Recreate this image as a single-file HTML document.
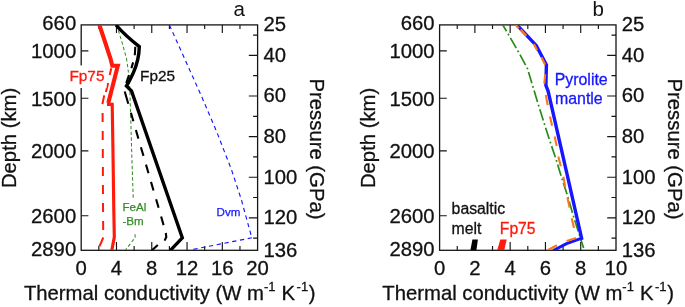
<!DOCTYPE html>
<html><head><meta charset="utf-8"><title>Thermal conductivity</title>
<style>
html,body{margin:0;padding:0;background:#fff;}
svg{display:block;font-family:"Liberation Sans", Arial, sans-serif;fill:#111;}
.tk{font-size:20.3px;stroke:#111;stroke-width:.3px;}
.ti{font-size:20.3px;stroke:#111;stroke-width:.3px;}
.lb{font-size:15.4px;stroke-width:.3px;}
.sm{font-size:11.6px;stroke-width:.25px;}
</style></head><body>
<svg width="685" height="307" viewBox="0 0 685 307">
<rect width="685" height="307" fill="#fff"/>
<rect x="81.20" y="24.9" width="176.40" height="225.40" fill="none" stroke="#151515" stroke-width="1.3"/>
<path d="M98.84 24.9v4.2M98.84 250.3v-4.2 M116.48 24.9v8.2M116.48 250.3v-8.2 M134.12 24.9v4.2M134.12 250.3v-4.2 M151.76 24.9v8.2M151.76 250.3v-8.2 M169.40 24.9v4.2M169.40 250.3v-4.2 M187.04 24.9v8.2M187.04 250.3v-8.2 M204.68 24.9v4.2M204.68 250.3v-4.2 M222.32 24.9v8.2M222.32 250.3v-8.2 M239.96 24.9v4.2M239.96 250.3v-4.2 M81.20 50.9h7.2 M81.20 98.2h7.2 M81.20 150.9h7.2 M81.20 215.7h7.2 M257.60 35.05h-4.5 M257.60 55.37h-8.8 M257.60 75.68h-4.5 M257.60 95.99h-8.8 M257.60 116.30h-4.5 M257.60 136.61h-8.8 M257.60 156.92h-4.5 M257.60 177.23h-8.8 M257.60 197.54h-4.5 M257.60 217.85h-8.8 M257.60 238.16h-4.5" stroke="#151515" stroke-width="1.15" fill="none"/>
<text x="76.20" y="30.4" text-anchor="end" class="tk">660</text>
<text x="76.20" y="58.4" text-anchor="end" class="tk">1000</text>
<text x="76.20" y="105.7" text-anchor="end" class="tk">1500</text>
<text x="76.20" y="158.1" text-anchor="end" class="tk">2000</text>
<text x="76.20" y="223.4" text-anchor="end" class="tk">2600</text>
<text x="76.20" y="255.8" text-anchor="end" class="tk">2890</text>
<text x="263.40" y="30.7" class="tk">25</text>
<text x="263.40" y="61.7" class="tk">40</text>
<text x="263.40" y="102.4" class="tk">60</text>
<text x="263.40" y="142.9" class="tk">80</text>
<text x="263.40" y="183.5" class="tk">100</text>
<text x="263.40" y="223.7" class="tk">120</text>
<text x="263.40" y="256.7" class="tk">136</text>
<text x="81.20" y="275.4" text-anchor="middle" class="tk">0</text>
<text x="116.48" y="275.4" text-anchor="middle" class="tk">4</text>
<text x="151.76" y="275.4" text-anchor="middle" class="tk">8</text>
<text x="187.04" y="275.4" text-anchor="middle" class="tk">12</text>
<text x="222.32" y="275.4" text-anchor="middle" class="tk">16</text>
<text x="257.60" y="275.4" text-anchor="middle" class="tk">20</text>
<text x="23.90" y="300.4" class="ti">Thermal conductivity (W m<tspan dy="-9.3" font-size="13">-1</tspan><tspan dy="9.3" dx="0.4"> K</tspan><tspan dy="-9.3" dx="1.5" font-size="13">-1</tspan><tspan dy="9.3" dx="0.7">)</tspan></text>
<text transform="translate(16.20 137.9) rotate(-90)" text-anchor="middle" class="ti">Depth (km)</text>
<text transform="translate(310.00 149) rotate(90)" text-anchor="middle" class="ti">Pressure (GPa)</text>
<text x="233.4" y="15.6" font-size="20.5">a</text>
<clipPath id="ca"><rect x="81.2" y="24.9" width="176.4" height="225.4"/></clipPath><clipPath id="cb"><rect x="439.6" y="24.9" width="176.4" height="225.4"/></clipPath>
<g fill="none" stroke-linejoin="miter" stroke-miterlimit="10" clip-path="url(#ca)">
<path d="M169.4 25 L185.4 60.4 L201.6 96.5 L217.2 133 L231.4 169.5 L241.3 199.5 L251.3 236 L252.3 237.7 L192.1 249.6" stroke="#1616ff" stroke-width="1.15" stroke-dasharray="4.3 3.6"/>
<path d="M116.6 25 L121.6 40.8 L126.4 58 Q129 75 129.6 84 L130.8 120 L131.8 156 L133.3 200 L135.2 237.5 L125.5 250" stroke="#338c24" stroke-width="1.05" stroke-dasharray="3.4 2.3"/>
<path d="M135.3 46.8L134.8 55.3 M133.1 62.4L131.4 68.3 M129.0 75.0L126.2 83.0 M124.7 91.5L128.3 103.7 M130.9 112.7L133.4 121.3 M135.9 130.0L138.4 138.6 M140.9 147.3L143.5 155.9 M146.0 164.6L148.5 173.2 M151.0 181.9L153.5 190.5 M156.1 199.2L158.6 207.8 M161.1 216.5L163.6 225.1 M165.8 233 L166.3 237 L164.6 240.6 M157.8 245 L151.9 250.3" stroke="#000" stroke-width="2.1"/>
<path d="M116 25 Q124.5 35 139.3 46.6 Q139 60 133.4 72.6 Q129.6 81 126.5 86 L131.5 91 L182.3 237.8 L170.4 250.3" stroke="#000" stroke-width="3.4"/>
<path d="M111.3 68.3L109.7 75.0 M108.2 82.9L105.9 91.9 M104.2 95.4L102.4 104.1 M102.6 113.0L102.6 122.0 M102.7 131.0L102.7 140.0 M102.8 149.0L102.8 158.0 M102.9 167.0L102.9 176.0 M102.9 185.0L103.0 194.0 M103.0 203.0L103.1 212.0 M103.1 221.0L103.2 230.0 M103.3 237.5 L99.5 246.3" stroke="#ff1a0c" stroke-width="2"/>
<path d="M99.4 25 Q104.8 40.8 110.8 59.7 L112.3 65.8 L117.8 65.8 L108.3 103" stroke="#ff1a0c" stroke-width="4.1"/>
<path d="M107 104.3 L112.2 104.3 L113 153 L113.8 210 L114.3 237 L111.8 250.3" stroke="#ff1a0c" stroke-width="3.15"/>
</g>
<rect x="67.5" y="65.4" width="39" height="22.6" fill="#fff"/>
<rect x="121" y="198.6" width="26" height="33.6" fill="#fff"/>
<text x="69.4" y="80.9" class="lb" fill="#ff1a0c" stroke="#ff1a0c">Fp75</text>
<text x="140.1" y="80.9" class="lb" stroke="#111">Fp25</text>
<text x="122.4" y="211.2" class="sm" fill="#338c24" stroke="#338c24">FeAl</text>
<text x="122.4" y="225.2" class="sm" fill="#338c24" stroke="#338c24">-Bm</text>
<text x="216.6" y="215.6" class="sm" fill="#1616ff" stroke="#1616ff">Dvm</text>
<rect x="439.60" y="24.9" width="176.40" height="225.40" fill="none" stroke="#151515" stroke-width="1.3"/>
<path d="M457.24 24.9v4.2M457.24 250.3v-4.2 M474.88 24.9v8.2M474.88 250.3v-8.2 M492.52 24.9v4.2M492.52 250.3v-4.2 M510.16 24.9v8.2M510.16 250.3v-8.2 M527.80 24.9v4.2M527.80 250.3v-4.2 M545.44 24.9v8.2M545.44 250.3v-8.2 M563.08 24.9v4.2M563.08 250.3v-4.2 M580.72 24.9v8.2M580.72 250.3v-8.2 M598.36 24.9v4.2M598.36 250.3v-4.2 M439.60 50.9h7.2 M439.60 98.2h7.2 M439.60 150.9h7.2 M439.60 215.7h7.2 M616.00 35.05h-4.5 M616.00 55.37h-8.8 M616.00 75.68h-4.5 M616.00 95.99h-8.8 M616.00 116.30h-4.5 M616.00 136.61h-8.8 M616.00 156.92h-4.5 M616.00 177.23h-8.8 M616.00 197.54h-4.5 M616.00 217.85h-8.8 M616.00 238.16h-4.5" stroke="#151515" stroke-width="1.15" fill="none"/>
<text x="434.60" y="30.4" text-anchor="end" class="tk">660</text>
<text x="434.60" y="58.4" text-anchor="end" class="tk">1000</text>
<text x="434.60" y="105.7" text-anchor="end" class="tk">1500</text>
<text x="434.60" y="158.1" text-anchor="end" class="tk">2000</text>
<text x="434.60" y="223.4" text-anchor="end" class="tk">2600</text>
<text x="434.60" y="255.8" text-anchor="end" class="tk">2890</text>
<text x="621.80" y="30.7" class="tk">25</text>
<text x="621.80" y="61.7" class="tk">40</text>
<text x="621.80" y="102.4" class="tk">60</text>
<text x="621.80" y="142.9" class="tk">80</text>
<text x="621.80" y="183.5" class="tk">100</text>
<text x="621.80" y="223.7" class="tk">120</text>
<text x="621.80" y="256.7" class="tk">136</text>
<text x="439.60" y="275.4" text-anchor="middle" class="tk">0</text>
<text x="474.88" y="275.4" text-anchor="middle" class="tk">2</text>
<text x="510.16" y="275.4" text-anchor="middle" class="tk">4</text>
<text x="545.44" y="275.4" text-anchor="middle" class="tk">6</text>
<text x="580.72" y="275.4" text-anchor="middle" class="tk">8</text>
<text x="616.00" y="275.4" text-anchor="middle" class="tk">10</text>
<text x="382.30" y="300.4" class="ti">Thermal conductivity (W m<tspan dy="-9.3" font-size="13">-1</tspan><tspan dy="9.3" dx="0.4"> K</tspan><tspan dy="-9.3" dx="1.5" font-size="13">-1</tspan><tspan dy="9.3" dx="0.7">)</tspan></text>
<text transform="translate(374.60 137.9) rotate(-90)" text-anchor="middle" class="ti">Depth (km)</text>
<text transform="translate(668.40 149) rotate(90)" text-anchor="middle" class="ti">Pressure (GPa)</text>
<text x="592.6" y="15.6" font-size="20.5">b</text>
<g fill="none" clip-path="url(#cb)">
<path d="M502.8 25 L508.2 34 L518.2 51.5 L527.4 68.3 L532.7 86.1 L538.3 104.4 L544.2 123.3 L549.9 141 L556.2 159.8 L561.7 178 L567.7 196.3 L573.3 215.7 L583.6 248" stroke="#2a8c18" stroke-width="1.7" stroke-dasharray="11.8 2.9 1.8 2.9" stroke-dashoffset="4.5"/>
<path d="M517 25 L536.2 45.4 L546.4 64.8 L545.9 85.5 L548.1 91 L581.6 238.2 L580 238.8" stroke="#1616ff" stroke-width="3.4" stroke-linejoin="miter"/>
<path d="M582.6 237.8 L566.6 243.6 L553.2 250.5" stroke="#1616ff" stroke-width="3" stroke-linejoin="round"/>
<path d="M515.7 25L518.9 28.3 M520.7 29.5L526.4 35.8 M533.9 44L537.1 50.2 M541.5 57.3L545.2 64.8 M545.2 74.2L544.3 83.6 M545.8 95L547.7 105.1 M550 116.4L552.1 125.8 M554.6 136.6L556.7 146 M558.3 156.6L560.8 166.2 M563.4 176.8L565.2 186.9 M567.4 197.5L569.6 207.6 M571.7 218.3L574 227.9 M576 237.9L566.6 241 M556.9 245.3L547.6 250.2" stroke="#f87a1a" stroke-width="2.1"/>
<path d="M472.4 239.4 L477.9 239.4 L476.4 250.3 L470.4 250.3Z" fill="#000"/>
<path d="M500.3 239.4 L506.7 239.4 L504.2 250.3 L497.2 250.3Z" fill="#ff1a0c"/>
</g>
<text x="554.7" y="84.5" class="lb" style="font-size:15.9px" fill="#1616ff" stroke="#1616ff">Pyrolite</text>
<text x="555" y="104" class="lb" style="font-size:15.9px" fill="#1616ff" stroke="#1616ff">mantle</text>
<text x="451.6" y="213.7" class="lb" style="font-size:15.8px" stroke="#111">basaltic</text>
<text x="451.6" y="234.3" class="lb" style="font-size:15.8px" stroke="#111">melt</text>
<text x="499.8" y="234.3" class="lb" style="font-size:15.7px" fill="#ff1a0c" stroke="#ff1a0c">Fp75</text>
</svg></body></html>
